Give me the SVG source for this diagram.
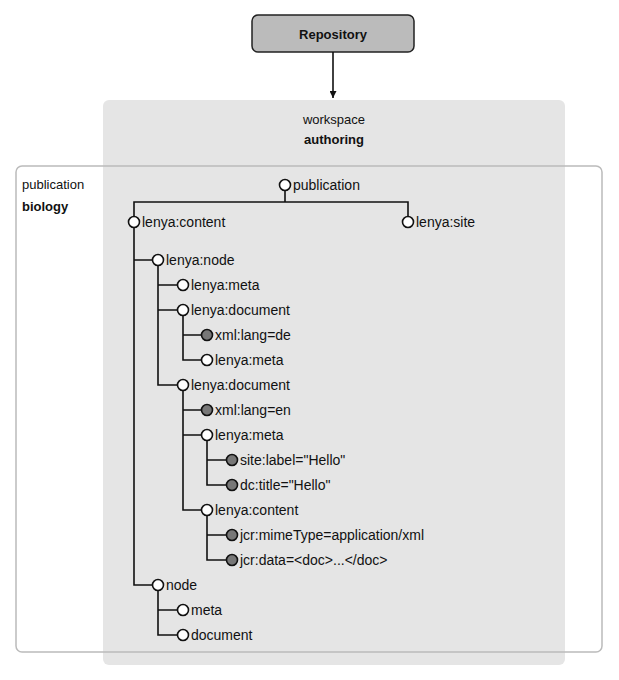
<svg xmlns="http://www.w3.org/2000/svg" width="619" height="680" viewBox="0 0 619 680">
<defs>
<style>
text{font-family:"Liberation Sans",Arial,sans-serif;font-size:14px;fill:#111}
.b{font-weight:bold}
.t{font-size:13px}
.ln{fill:none;stroke:#111;stroke-width:1.6}
.o{fill:#fff;stroke:#111;stroke-width:1.6}
.f{fill:#777;stroke:#111;stroke-width:1.6}
</style>
<marker id="ah" viewBox="0 0 10 10" refX="10" refY="5" markerWidth="7" markerHeight="7" orient="auto" markerUnits="userSpaceOnUse"><path d="M0,0 L10,5 L0,10 z" fill="#111"/></marker>
</defs>
<rect id="workspace" x="103" y="100" width="462" height="565" rx="6" fill="#e5e5e5"/>
<g id="workspace-label"><text x="334" y="124" text-anchor="middle" class="t">workspace</text><text x="334" y="144" text-anchor="middle" class="b t">authoring</text></g>
<g id="publication-box"><rect x="16" y="166" width="586" height="486" rx="6" fill="none" stroke="#bbb" stroke-width="1.5"/>
<text x="22" y="189" class="t">publication</text><text x="22" y="211" class="b t">biology</text></g>
<g id="repository"><rect x="252" y="15" width="162" height="37" rx="6" fill="#bbb" stroke="#222" stroke-width="1.5"/><text x="333" y="39" text-anchor="middle" class="b t">Repository</text></g>
<g id="connectors">
<line x1="333" y1="52" x2="333" y2="98" class="ln" marker-end="url(#ah)"/>
<path class="ln" d="M285,191 V202 M134,216 V202 H408 V216"/>
<path class="ln" d="M134,228 V585 H152 M134,260 H152"/>
<path class="ln" d="M158,266 V385 H177 M158,285 H177 M158,310 H177"/>
<path class="ln" d="M183,316 V360 H201 M183,335 H201"/>
<path class="ln" d="M183,391 V510 H201 M183,410 H201 M183,435 H201"/>
<path class="ln" d="M207,441 V485 H226 M207,460 H226"/>
<path class="ln" d="M207,516 V560 H226 M207,535 H226"/>
<path class="ln" d="M158,591 V635 H177 M158,610 H177"/>
</g>
<g id="n-publication"><circle cx="285" cy="185" r="5.5" class="o"/><text x="293" y="190">publication</text></g>
<g id="n-lenya-content"><circle cx="134" cy="222" r="5.5" class="o"/><text x="142" y="227">lenya:content</text></g>
<g id="n-lenya-site"><circle cx="408" cy="222" r="5.5" class="o"/><text x="416" y="227">lenya:site</text></g>
<g id="n-lenya-node"><circle cx="158" cy="260" r="5.5" class="o"/><text x="166" y="265">lenya:node</text></g>
<g id="n-lenya-meta-1"><circle cx="183" cy="285" r="5.5" class="o"/><text x="191" y="290">lenya:meta</text></g>
<g id="n-lenya-document-1"><circle cx="183" cy="310" r="5.5" class="o"/><text x="191" y="315">lenya:document</text></g>
<g id="n-xml-lang-de"><circle cx="207" cy="335" r="5.5" class="f"/><text x="215" y="340">xml:lang=de</text></g>
<g id="n-lenya-meta-2"><circle cx="207" cy="360" r="5.5" class="o"/><text x="215" y="365">lenya:meta</text></g>
<g id="n-lenya-document-2"><circle cx="183" cy="385" r="5.5" class="o"/><text x="191" y="390">lenya:document</text></g>
<g id="n-xml-lang-en"><circle cx="207" cy="410" r="5.5" class="f"/><text x="215" y="415">xml:lang=en</text></g>
<g id="n-lenya-meta-3"><circle cx="207" cy="435" r="5.5" class="o"/><text x="215" y="440">lenya:meta</text></g>
<g id="n-site-label"><circle cx="232" cy="460" r="5.5" class="f"/><text x="240" y="465">site:label="Hello"</text></g>
<g id="n-dc-title"><circle cx="232" cy="485" r="5.5" class="f"/><text x="240" y="490">dc:title="Hello"</text></g>
<g id="n-lenya-content-2"><circle cx="207" cy="510" r="5.5" class="o"/><text x="215" y="515">lenya:content</text></g>
<g id="n-jcr-mimetype"><circle cx="232" cy="535" r="5.5" class="f"/><text x="240" y="540">jcr:mimeType=application/xml</text></g>
<g id="n-jcr-data"><circle cx="232" cy="560" r="5.5" class="f"/><text x="240" y="565">jcr:data=&lt;doc&gt;...&lt;/doc&gt;</text></g>
<g id="n-node"><circle cx="158" cy="585" r="5.5" class="o"/><text x="166" y="590">node</text></g>
<g id="n-meta"><circle cx="183" cy="610" r="5.5" class="o"/><text x="191" y="615">meta</text></g>
<g id="n-document"><circle cx="183" cy="635" r="5.5" class="o"/><text x="191" y="640">document</text></g>
</svg>
